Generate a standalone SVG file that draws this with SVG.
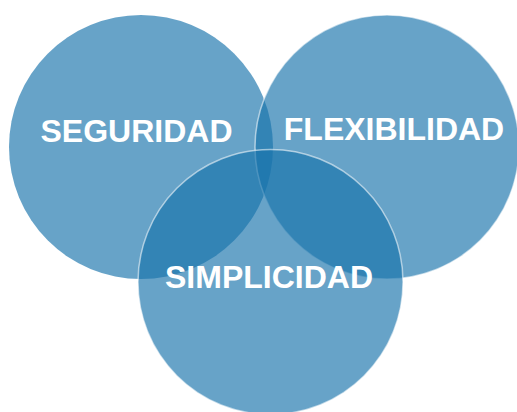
<svg xmlns="http://www.w3.org/2000/svg" width="517" height="412" viewBox="0 0 517 412">
<style>
.c{fill:rgb(25,115,171);fill-opacity:0.66;stroke:#ffffff;stroke-opacity:0.55;stroke-width:1.5}
.first{stroke:none}
.t{font-family:"Liberation Sans",Arial,sans-serif;font-weight:bold;font-size:32px;fill:#ffffff;text-anchor:middle}
</style>
<rect width="517" height="412" fill="#ffffff"/>
<g id="seguridad"><circle class="c first" cx="141" cy="147" r="132"/></g>
<g id="flexibilidad"><circle class="c" cx="387" cy="147" r="132"/></g>
<g id="simplicidad"><circle class="c" cx="270.5" cy="282" r="132.5"/></g>
<g id="connectors"></g>
<g id="labels">
<text class="t" x="136.5" y="142">SEGURIDAD</text>
<text class="t" x="394" y="140">FLEXIBILIDAD</text>
<text class="t" x="269" y="288">SIMPLICIDAD</text>
</g>
</svg>
